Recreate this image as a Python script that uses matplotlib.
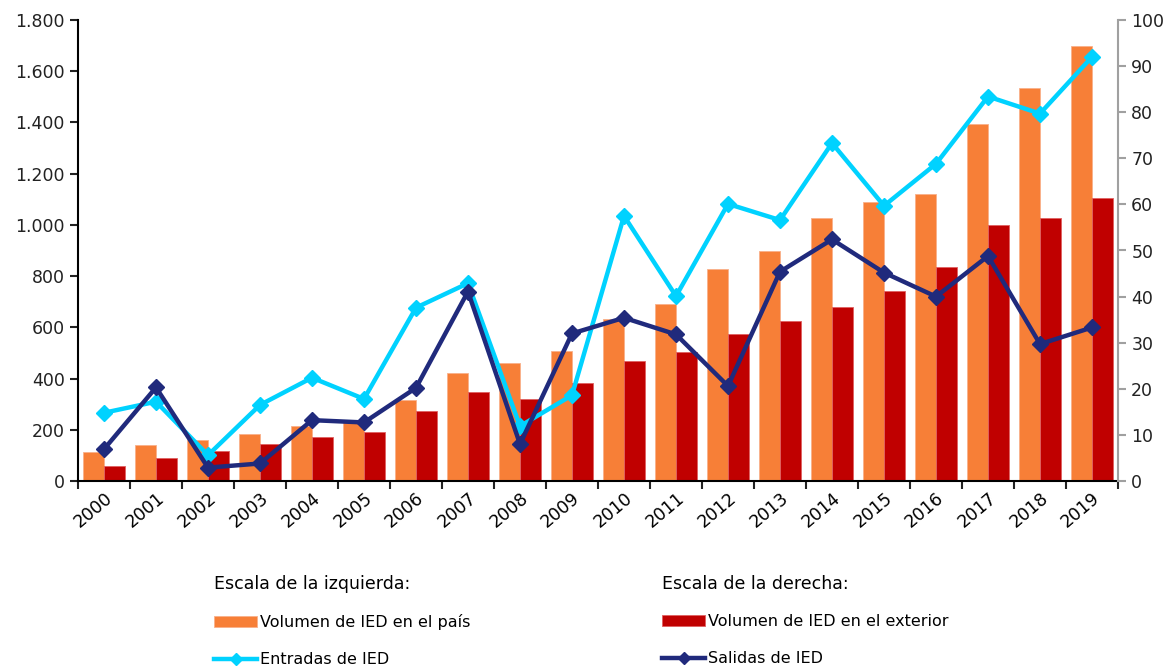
import numpy as np
import matplotlib.pyplot as plt
from matplotlib.ticker import FixedLocator

years = [str(y) for y in range(2000, 2020)]

# left scale (bars)
vol_pais = [112, 140, 160, 183, 216, 235, 316, 421, 460, 507,
            632, 690, 829, 897, 1027, 1091, 1121, 1393, 1535, 1697]
vol_exterior = [57, 90, 117, 143, 172, 193, 272, 347, 319, 381,
                467, 502, 573, 623, 681, 741, 837, 1001, 1026, 1105]

# right scale (lines)
entradas = [14.8, 17.2, 5.6, 16.5, 22.4, 17.8, 37.6, 42.9, 11.9, 18.6,
            57.5, 40.1, 60.1, 56.6, 73.3, 59.7, 68.8, 83.4, 79.7, 92.0]
salidas = [6.9, 20.3, 2.9, 3.8, 13.2, 12.7, 20.2, 41.1, 8.0, 32.0,
           35.4, 31.8, 20.6, 45.4, 52.4, 45.2, 40.0, 48.8, 29.7, 33.3]

left_ticks = [0, 200, 400, 600, 800, 1000, 1200, 1400, 1600, 1800]
left_labels = ['0', '200', '400', '600', '800', '1.000', '1.200', '1.400', '1.600', '1.800']
right_ticks = [0, 10, 20, 30, 40, 50, 60, 70, 80, 90, 100]

c_orange = '#F77F37'
c_red = '#C00000'
c_cyan = '#00D2FF'
c_navy = '#202A7C'

W, H = 1169, 666
fig = plt.figure(figsize=(W / 100, H / 100), dpi=100)
ax = fig.add_axes([78 / W, 1 - 481 / H, (1118 - 78) / W, (481 - 20) / H])
ax2 = ax.twinx()

x = np.arange(len(years)) + 0.5
ax.bar(x - 0.2, vol_pais, width=0.4, color=c_orange, edgecolor='#F9B08A', linewidth=0.6,
       label='Volumen de IED en el país', zorder=2)
ax.bar(x + 0.2, vol_exterior, width=0.4, color=c_red, edgecolor='#E06060', linewidth=0.6,
       label='Volumen de IED en el exterior', zorder=2)

l1, = ax2.plot(x, entradas, color=c_cyan, lw=3.2, marker='D', ms=8.5, label='Entradas de IED', zorder=3)
l2, = ax2.plot(x, salidas, color=c_navy, lw=3.2, marker='D', ms=8.5, label='Salidas de IED', zorder=4)

ax.set_xlim(0, len(years))
ax.set_ylim(0, 1800)
ax2.set_ylim(0, 100)

ax.set_yticks(left_ticks)
ax.set_yticklabels(left_labels)
ax2.set_yticks(right_ticks)

ax.set_xticks(x)
ax.set_xticklabels(years, rotation=40, ha='right', rotation_mode='anchor')
ax.xaxis.set_minor_locator(FixedLocator(np.arange(len(years) + 1)))
ax.tick_params(axis='x', which='major', length=0, pad=6, labelsize=12.5)
ax.tick_params(axis='x', which='minor', length=6, width=1.5, color='#222222', direction='out')
ax.tick_params(axis='y', length=6, width=1.5, color='#222222', labelsize=12.5, labelcolor='#222222')
ax2.tick_params(axis='y', length=6, width=1.5, color='#A0A0A0', labelsize=12.5, labelcolor='#222222')

for a in (ax, ax2):
    a.spines['top'].set_visible(False)
ax.spines['left'].set_linewidth(1.5)
ax.spines['bottom'].set_linewidth(1.5)
ax.spines['right'].set_visible(False)
ax2.spines['left'].set_visible(False)
ax2.spines['bottom'].set_visible(False)
ax2.spines['right'].set_color('#A0A0A0')
ax2.spines['right'].set_linewidth(1.5)

h_bars, _ = ax.get_legend_handles_labels()

leg_kw = dict(frameon=False, loc='upper left', fontsize=11.5, title_fontsize=12.5,
              alignment='left', handlelength=2.7, handletextpad=0.15, labelspacing=1.4,
              borderpad=0, borderaxespad=0, markerscale=0.75)
leg1 = fig.legend(handles=[h_bars[0], l1], title='Escala de la izquierda:',
                  bbox_to_anchor=(214 / W, 1 - 575 / H), **leg_kw)
leg2 = fig.legend(handles=[h_bars[1], l2], title='Escala de la derecha:',
                  bbox_to_anchor=(662 / W, 1 - 575 / H), **leg_kw)
for leg in (leg1, leg2):
    leg._legend_box.sep = 15

fig.savefig('out.png', dpi=100)
